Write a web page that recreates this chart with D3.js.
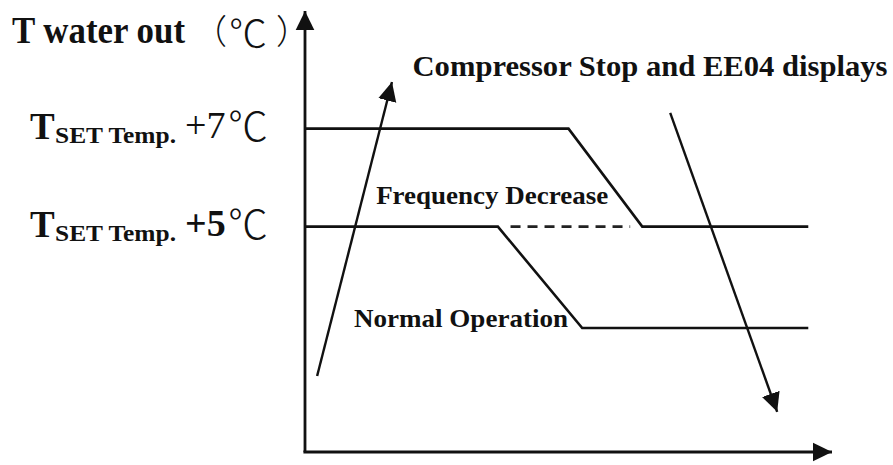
<!DOCTYPE html>
<html><head><meta charset="utf-8">
<script src="https://cdn.jsdelivr.net/npm/d3@7"></script>
<style>html,body{margin:0;padding:0;background:#fff;} svg{display:block;}</style>
</head><body>
<script>
// ---- data (schematic units: time 0-100, temperature offset in °C) ----
const timeDomain = [0, 100];
const tempDomain = [0.4, 9.4];
const upperX = [0, 50, 64, 95.5];
const upperY = [7, 7, 5, 5];
const lowerX = [0, 36.6, 52.6, 95.5];
const lowerY = [5, 5, 2.93, 2.93];
const dashX = [39, 61.7];
const dashY = [5, 5];
const riseX = [2.3, 16.5];
const riseY = [1.95, 7.95];
const fallX = [69.3, 89.6];
const fallY = [7.32, 1.22];
const levelValues = [7, 5];
const levelLabels = ["+7", "+5"];
const levelPrefix = "T";
const levelSub = "SET Temp.";
const unitSymbol = "℃";
const axisTitle = "T water out";
const axisUnit = ["（", "℃", "）"];
const annotations = ["Compressor Stop and EE04 displays", "Frequency Decrease", "Normal Operation"];

// ---- drawing ----
const W = 893, H = 465;
const x = d3.scaleLinear().domain(timeDomain).range([305, 832]);
const y = d3.scaleLinear().domain(tempDomain).range([452, 11]);
const ink = "#111";
const serif = "'Liberation Serif','Times New Roman',serif";
const cjk = "'Noto Sans CJK SC','Noto Sans',sans-serif";

const svg = d3.select("body").append("svg").attr("width", W).attr("height", H);
svg.append("rect").attr("width", W).attr("height", H).attr("fill", "#fff");

const defs = svg.append("defs");
defs.append("marker").attr("id", "ah")
  .attr("viewBox", "0 -10 20 20").attr("refX", 19).attr("refY", 0)
  .attr("markerWidth", 20).attr("markerHeight", 20)
  .attr("markerUnits", "userSpaceOnUse").attr("orient", "auto")
  .append("path").attr("d", "M0,-9.3L19,0L0,9.3Z").attr("fill", ink);

const line = d3.line().x(d => x(d[0])).y(d => y(d[1]));
const pts = (xs, ys) => xs.map((v, i) => [v, ys[i]]);

// axes
svg.append("path").attr("d", line([[timeDomain[0], tempDomain[0]], [timeDomain[0], tempDomain[1]]]))
  .attr("fill", "none").attr("stroke", ink).attr("stroke-width", 2.8).attr("marker-end", "url(#ah)");
svg.append("path").attr("d", line([[timeDomain[0] - 0.3, tempDomain[0]], [timeDomain[1], tempDomain[0]]]))
  .attr("fill", "none").attr("stroke", ink).attr("stroke-width", 2.8).attr("marker-end", "url(#ah)");

// series
[[upperX, upperY], [lowerX, lowerY]].forEach(([xs, ys]) => {
  svg.append("path").attr("d", line(pts(xs, ys)))
    .attr("fill", "none").attr("stroke", ink).attr("stroke-width", 2.6)
    .attr("stroke-linejoin", "miter");
});
svg.append("path").attr("d", line(pts(dashX, dashY)))
  .attr("fill", "none").attr("stroke", "#222").attr("stroke-width", 2.6)
  .attr("stroke-dasharray", "10,7");

// trend arrows
[[riseX, riseY], [fallX, fallY]].forEach(([xs, ys]) => {
  svg.append("path").attr("d", line(pts(xs, ys)))
    .attr("fill", "none").attr("stroke", ink).attr("stroke-width", 2.4)
    .attr("marker-end", "url(#ah)");
});

// level labels via d3 axis
const yAxis = d3.axisLeft(y).tickValues(levelValues).tickSize(0)
  .tickFormat((d, i) => levelLabels[i]);
const ag = svg.append("g").call(yAxis);
ag.select(".domain").remove();
ag.selectAll(".tick text").each(function (d, i) {
  const t = d3.select(this);
  t.text(null).attr("x", null).attr("dy", null).attr("fill", ink)
    .attr("text-anchor", "start").attr("font-family", serif);
  t.append("tspan").attr("x", 30).attr("y", 10).attr("font-size", 37).attr("font-weight", "bold").text(levelPrefix);
  t.append("tspan").attr("x", 55).attr("y", 13.5).attr("font-size", 24).attr("font-weight", "bold")
    .attr("textLength", 121).attr("lengthAdjust", "spacingAndGlyphs").text(levelSub);
  t.append("tspan").attr("x", 185).attr("y", 9).attr("font-size", 38)
    .attr("font-weight", i === 1 ? "bold" : "normal").text(levelLabels[i]);
  t.append("tspan").attr("x", 228).attr("y", 12).attr("font-size", 40).attr("font-family", cjk)
    .attr("font-weight", 300).text(unitSymbol);
});

// axis title
svg.append("text").attr("x", 12).attr("y", 43).attr("font-family", serif).attr("font-weight", "bold")
  .attr("font-size", 37).attr("fill", ink)
  .attr("textLength", 173).attr("lengthAdjust", "spacingAndGlyphs").text(axisTitle);
svg.append("text").attr("x", 227).attr("y", 44).attr("text-anchor", "end").attr("font-family", cjk)
  .attr("font-weight", 300).attr("font-size", 34).attr("fill", ink).text(axisUnit[0]);
svg.append("text").attr("x", 229).attr("y", 47).attr("font-family", cjk)
  .attr("font-weight", 300).attr("font-size", 38).attr("fill", ink).text(axisUnit[1]);
svg.append("text").attr("x", 276).attr("y", 44).attr("font-family", cjk)
  .attr("font-weight", 300).attr("font-size", 34).attr("fill", ink).text(axisUnit[2]);

// annotations
const annPos = [
  { x: x(20.4), y: y(8.07), len: 475, size: 30 },
  { x: x(13.5), y: y(upperY[2]) - 23, len: 232, size: 26 },
  { x: x(9.3), y: y(lowerY[2]) - 1, len: 214, size: 26 }
];
annotations.forEach((txt, i) => {
  const p = annPos[i];
  svg.append("text").attr("x", p.x).attr("y", p.y).attr("font-family", serif)
    .attr("font-weight", "bold").attr("font-size", p.size).attr("fill", ink)
    .attr("textLength", p.len).attr("lengthAdjust", "spacingAndGlyphs").text(txt);
});
</script>
</body></html>
